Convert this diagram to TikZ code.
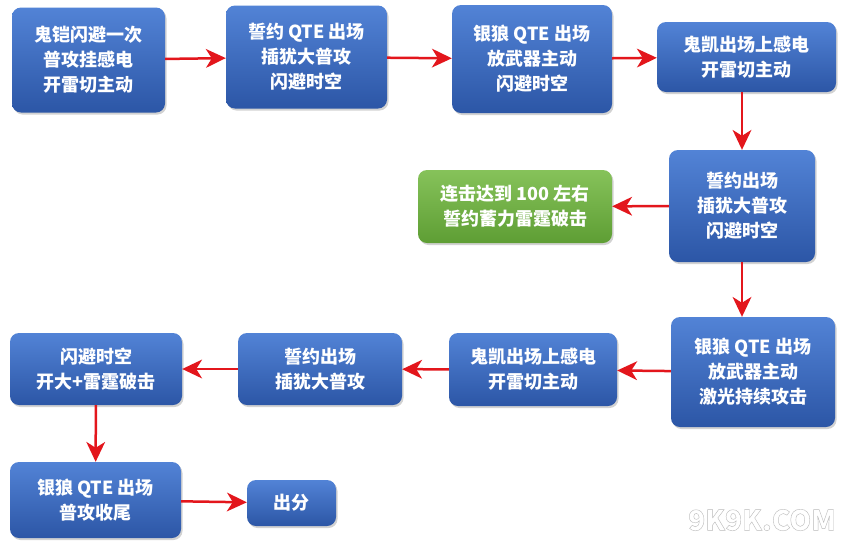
\documentclass[tikz,border=0pt]{standalone}
\usepackage{fontspec}
\setmainfont{Noto Sans CJK SC}
\usetikzlibrary{shadows,arrows.meta}
\definecolor{bt}{HTML}{5283D6}
\definecolor{bb}{HTML}{2C56A6}
\definecolor{gt}{HTML}{86C25A}
\definecolor{gb}{HTML}{5E9E34}
\definecolor{ar}{HTML}{E3161C}
\tikzset{
 bx/.style={rounded corners=9pt, top color=bt, bottom color=bb, text=white, align=center,
   font=\fontsize{18}{25}\selectfont\bfseries, inner sep=2pt, drop shadow={opacity=0.35,shadow xshift=1.5pt,shadow yshift=-2pt}},
 gx/.style={bx, top color=gt, bottom color=gb},
 ra/.style={draw=ar, fill=ar, line width=2.5pt, arrows={-Stealth[length=20pt,width=19pt,inset=6pt,line width=0pt]}},
}
\begin{document}
\begin{tikzpicture}[x=1pt,y=-1pt]
\useasboundingbox (0,0) rectangle (849,550);
\fill[white] (0,0) rectangle (849,550);
\node[bx, minimum width=153pt, minimum height=105pt] (a) at (88.5,60) {鬼铠闪避一次\\普攻挂感电\\开雷切主动};
\node[bx, minimum width=161pt, minimum height=103pt] (b) at (306.5,57) {誓约 QTE 出场\\插犹大普攻\\闪避时空};
\node[bx, minimum width=160pt, minimum height=108pt] (c) at (532,59) {银狼 QTE 出场\\放武器主动\\闪避时空};
\node[bx, minimum width=179pt, minimum height=70pt] (d) at (746.5,57) {鬼凯出场上感电\\开雷切主动};
\node[bx, minimum width=146pt, minimum height=112pt] (e) at (742,206) {誓约出场\\插犹大普攻\\闪避时空};
\node[gx, minimum width=194pt, minimum height=73pt] (f) at (515,206.5) {连击达到 100 左右\\誓约蓄力雷霆破击};
\node[bx, minimum width=164pt, minimum height=110pt] (g) at (753,372) {银狼 QTE 出场\\放武器主动\\激光持续攻击};
\node[bx, minimum width=168pt, minimum height=73pt] (h) at (533,369.5) {鬼凯出场上感电\\开雷切主动};
\node[bx, minimum width=164pt, minimum height=72pt] (i) at (320,369) {誓约出场\\插犹大普攻};
\node[bx, minimum width=172pt, minimum height=72pt] (j) at (96,369) {闪避时空\\开大+雷霆破击};
\node[bx, minimum width=171pt, minimum height=76pt] (k) at (95.5,500) {银狼 QTE 出场\\普攻收尾};
\node[bx, minimum width=89pt, minimum height=46pt] (l) at (291.5,503) {出分};
\draw[ra] (a) -- (b);
\draw[ra] (b) -- (c);
\draw[ra] (c) -- (d);
\draw[ra] (d.south -| e) -- (e);
\draw[ra] (e) -- (f);
\draw[ra] (e) -- (e.south |- g.north);
\draw[ra] (g) -- (h);
\draw[ra] (h) -- (i);
\draw[ra] (i) -- (j);
\draw[ra] (j) -- (k);
\draw[ra] (k) -- (l);
\node[font=\fontsize{28}{28}\selectfont\bfseries, text=white] (w) at (762,520) {\pgfsetstrokecolor{gray!55}\special{pdf:literal 2 Tr}9K9K.COM\special{pdf:literal 0 Tr}};
\end{tikzpicture}
\end{document}
